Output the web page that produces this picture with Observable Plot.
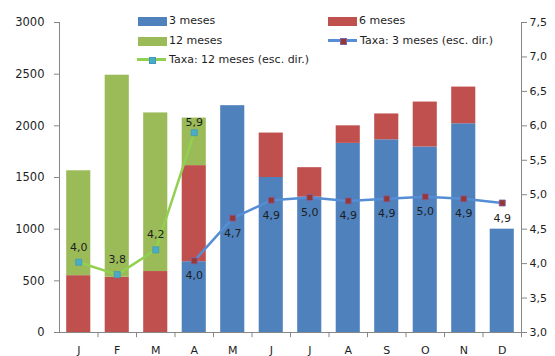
<!DOCTYPE html>
<html>
<head>
<meta charset="utf-8">
<script src="https://cdn.jsdelivr.net/npm/d3@7"></script>
<script src="https://cdn.jsdelivr.net/npm/@observablehq/plot@0.6"></script>
<style>
  html, body { margin: 0; padding: 0; background: #fff; }
  #wrap { position: relative; width: 555px; height: 356px; font-family: "DejaVu Sans", Verdana, sans-serif; font-size: 11px; color: #1e1e1e; }
  .lg { position: absolute; white-space: nowrap; line-height: 13px; }
  .sw { position: absolute; }
</style>
</head>
<body>
<div id="wrap"></div>
<script>
const months = ["J","F","M","A","M","J","J","A","S","O","N","D"];
const vol3  = [0, 0, 0, 685, 2195, 1500, 1310, 1830, 1865, 1795, 2020, 1000];
const vol6  = [550, 535, 590, 930, 0, 430, 285, 170, 250, 435, 355, 0];
const vol12 = [1015, 1955, 1535, 460, 0, 0, 0, 0, 0, 0, 0, 0];
const rate12 = [4.02, 3.84, 4.2, 5.9, null, null, null, null, null, null, null, null];
const rate3  = [null, null, null, 4.04, 4.66, 4.92, 4.96, 4.91, 4.94, 4.97, 4.94, 4.88];
const leftTicks = [0, 500, 1000, 1500, 2000, 2500, 3000];
const rightTicks = [3.0, 3.5, 4.0, 4.5, 5.0, 5.5, 6.0, 6.5, 7.0, 7.5];

const colors = {"3 meses": "#4F81BD", "6 meses": "#C0504D", "12 meses": "#9BBB59"};

// right-axis mapping onto the left scale
const rMin = 3, rMax = 7.5, lMax = 3000;
const toL = r => (r - rMin) / (rMax - rMin) * lMax;
const fromL = v => v / lMax * (rMax - rMin) + rMin;
const fmt = r => r.toFixed(1).replace(".", ",");

// stacked rectangles (blue bottom, red, green top)
const rects = [];
months.forEach((m, i) => {
  let base = 0;
  [[vol3, "3 meses"], [vol6, "6 meses"], [vol12, "12 meses"]].forEach(([arr, name]) => {
    const v = arr[i];
    if (v > 0) rects.push({i, series: name, y1: base, y2: base + v});
    base += v;
  });
});

const pts12 = rate12.map((r, i) => ({i, r})).filter(d => d.r != null);
const pts3  = rate3.map((r, i) => ({i, r})).filter(d => d.r != null);

const axisColor = "#868686";
const textColor = "#1e1e1e";

const chart = Plot.plot({
  width: 555,
  height: 356,
  marginTop: 22,
  marginBottom: 24,
  marginLeft: 59,
  marginRight: 34,
  x: {type: "linear", domain: [0, 12], axis: null},
  y: {domain: [0, 3000], axis: null},
  style: {fontFamily: "DejaVu Sans, Verdana, sans-serif", fontSize: "11px", color: textColor, background: "white"},
  marks: [
    Plot.rect(rects, {
      x1: d => d.i, x2: d => d.i + 1, y1: "y1", y2: "y2",
      fill: d => colors[d.series],
      insetLeft: 7.2, insetRight: 7.2
    }),
    // axis lines
    Plot.ruleX([0, 12], {stroke: axisColor}),
    Plot.ruleY([0], {stroke: axisColor}),
    // x boundary ticks
    Plot.ruleX(d3.range(1, 13), {y1: 0, y2: -50, stroke: axisColor}),
    // month labels
    Plot.text(months, {x: (d, i) => i + 0.5, y: 0, dy: 18, text: d => d, fill: textColor}),
    // left axis
    Plot.axisY(leftTicks, {anchor: "left", tickSize: 5, tickPadding: 10, stroke: axisColor, fontSize: 11.5, tickFormat: d => String(d)}),
    // right axis
    Plot.axisY(rightTicks.map(toL), {anchor: "right", tickSize: 5, tickPadding: 3, stroke: axisColor, tickFormat: d => fmt(fromL(d))}),
    // 12-month rate line
    Plot.line(pts12, {x: d => d.i + 0.5, y: d => toL(d.r), stroke: "#92D050", strokeWidth: 2.5}),
    Plot.dot(pts12, {x: d => d.i + 0.5, y: d => toL(d.r), symbol: "square", r: 3.4, fill: "#4BACC6", stroke: "#3f9ab8", strokeWidth: 0.8}),
    Plot.text(pts12.filter(d => d.i < 3), {x: d => d.i + 0.5, y: d => toL(d.r), dy: -15, text: d => fmt(d.r), fill: textColor}),
    Plot.text(pts12.filter(d => d.i >= 3), {x: d => d.i + 0.5, y: d => toL(d.r), dy: -10, text: d => fmt(d.r), fill: textColor}),
    // 3-month rate line
    Plot.line(pts3, {x: d => d.i + 0.5, y: d => toL(d.r), stroke: "#558ED5", strokeWidth: 2.5}),
    Plot.dot(pts3, {x: d => d.i + 0.5, y: d => toL(d.r), symbol: "square", r: 3.4, fill: "#953735", stroke: "#8064A2", strokeWidth: 0.8}),
    Plot.text(pts3, {x: d => d.i + 0.5, y: d => toL(d.r), dy: 15, text: d => fmt(d.r), fill: textColor})
  ]
});

const wrap = document.getElementById("wrap");
wrap.appendChild(chart);

// legend overlay
function addBox(x, y, color, label) {
  const s = document.createElement("div");
  s.className = "sw";
  Object.assign(s.style, {left: x + "px", top: (y - 4.5) + "px", width: "29px", height: "9px", background: color});
  wrap.appendChild(s);
  const t = document.createElement("div");
  t.className = "lg";
  t.textContent = label;
  Object.assign(t.style, {left: (x + 31) + "px", top: (y - 7) + "px"});
  wrap.appendChild(t);
}
function addLine(x, y, lineColor, markFill, markStroke, label) {
  const l = document.createElement("div");
  l.className = "sw";
  Object.assign(l.style, {left: x + "px", top: (y - 1.25) + "px", width: "29px", height: "2.5px", background: lineColor});
  wrap.appendChild(l);
  const m = document.createElement("div");
  m.className = "sw";
  Object.assign(m.style, {left: (x + 11.5) + "px", top: (y - 3) + "px", width: "5px", height: "5px", background: markFill, border: "0.8px solid " + markStroke});
  wrap.appendChild(m);
  const t = document.createElement("div");
  t.className = "lg";
  t.textContent = label;
  Object.assign(t.style, {left: (x + 32) + "px", top: (y - 7) + "px"});
  wrap.appendChild(t);
}
addBox(138, 21, colors["3 meses"], "3 meses");
addBox(328, 21, colors["6 meses"], "6 meses");
addBox(138, 41, colors["12 meses"], "12 meses");
addLine(328, 40.5, "#558ED5", "#953735", "#8064A2", "Taxa: 3 meses (esc. dir.)");
addLine(137, 59.5, "#92D050", "#4BACC6", "#3f9ab8", "Taxa: 12 meses (esc. dir.)");
</script>
</body>
</html>
